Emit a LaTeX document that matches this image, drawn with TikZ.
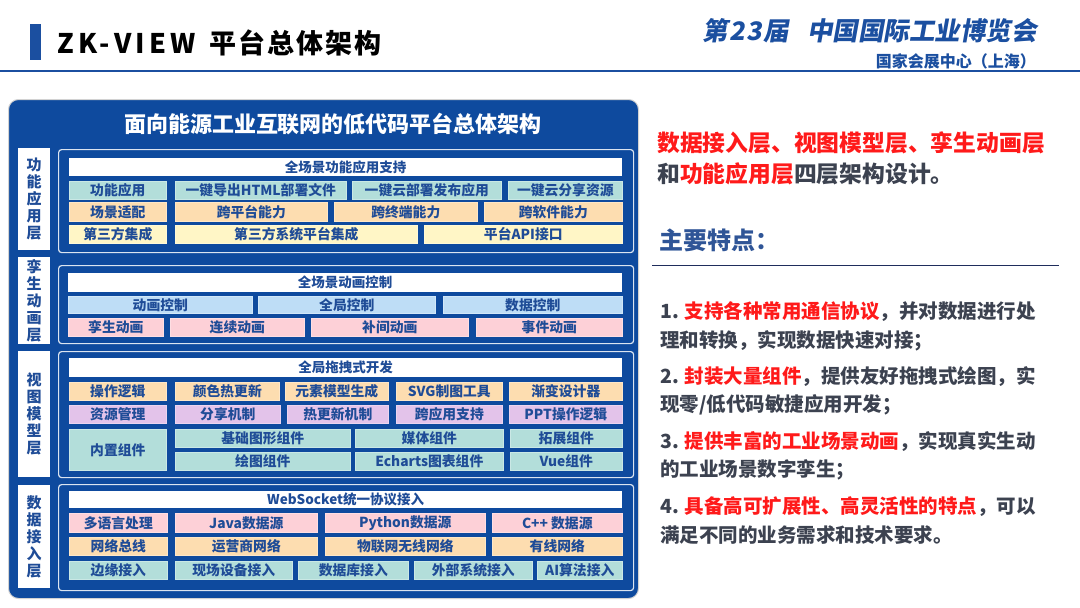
\documentclass[tikz,border=0pt]{standalone}
\usepackage{fontspec}
\setmainfont{Noto Sans CJK SC}
\newfontfamily\slantcjk[FakeSlant=0.18]{Noto Sans CJK SC}
\newfontfamily\spacedlat[LetterSpace=16]{Noto Sans CJK SC}
\newfontfamily\spacedcjk[LetterSpace=7]{Noto Sans CJK SC}
\newfontfamily\widecjk[LetterSpace=6,FakeSlant=0.18]{Noto Sans CJK SC}
\usetikzlibrary{positioning}
\definecolor{ZkNavy}{HTML}{0E4A9E}
\definecolor{ZkBar}{HTML}{1B4FA0}
\definecolor{ZkInk}{HTML}{1F4C97}
\definecolor{ZkTeal}{HTML}{B3DEDA}
\definecolor{ZkPeach}{HTML}{FDDDB0}
\definecolor{ZkCream}{HTML}{FFF6C6}
\definecolor{ZkSky}{HTML}{BEDDF6}
\definecolor{ZkRose}{HTML}{FDD0D7}
\definecolor{ZkLilac}{HTML}{E3C3EA}
\definecolor{ZkRed}{HTML}{FF1A1A}
\definecolor{ZkGray}{HTML}{3C4250}
\definecolor{ZkHead}{HTML}{2F5597}
\definecolor{ZkRule}{HTML}{1F2D5C}
\tikzset{panel/.style={fill=ZkNavy,draw=gray!35,line width=1pt,rounded corners=10pt,
anchor=north west,inner sep=0pt},
layerbox/.style={fill=ZkNavy,draw=white!85!ZkNavy,line width=1.2pt,rounded corners=3pt,
anchor=north west,inner sep=0pt},
layerlbl/.style={fill=white,minimum width=32pt,anchor=north west,inner sep=0pt,align=center,
text=ZkInk,font=\bfseries\fontsize{15}{17}\selectfont},
headbar/.style={fill=white,anchor=north west,inner sep=0pt,text=ZkInk,
font=\bfseries\fontsize{13.5}{14}\selectfont},
cell/.style={fill=#1,draw=#1!70!white,line width=0.6pt,anchor=north west,inner sep=0pt,
text=ZkInk,font=\bfseries\fontsize{13.8}{14}\selectfont},
lead/.style={anchor=west,inner sep=0pt,text=ZkGray,font=\bfseries\fontsize{22.8}{24}\selectfont},
item/.style={anchor=west,inner sep=0pt,text=ZkGray,font=\bfseries\fontsize{19.5}{21}\selectfont}}
\newcommand\hl[1]{\textcolor{ZkRed}{#1}}
% one row of cells: style colour, top, bottom, name/left/right/text
\newcommand\cellrow[4]{\foreach \nm/\xa/\xb/\txt in {#4}{
\pgfmathsetmacro\cw{\xb-\xa}\pgfmathsetmacro\ch{#3-#2}
\node[cell=#1,minimum width=\cw pt,minimum height=\ch pt](\nm) at (\xa,#2){\txt};}}

\begin{document}
\begin{tikzpicture}[x=1pt,y=-1pt]
\useasboundingbox (0,0) rectangle (1080,608);
% page header
\fill[ZkBar] (30,24) rectangle (41,60);
\node[anchor=west,inner sep=0pt,font=\bfseries\fontsize{27}{29}\selectfont](title) at (57,43){{\spacedlat ZK-VIEW}\hspace{0.5em}{\spacedcjk 平台总体架构}};
\node[anchor=east,inner sep=0pt,text=ZkBar,font=\slantcjk\bfseries\fontsize{25.5}{27}\selectfont](expo) at (1037,31){{\widecjk\bfseries 第23届}\hspace{0.7em}中国国际工业博览会};
\node[anchor=east,inner sep=0pt,text=ZkBar,font=\bfseries\fontsize{16}{18}\selectfont](venue) at (1036,61){国家会展中心（上海）};
\draw[ZkBar,line width=1.5pt] (0,71) -- (1080,71);

% architecture panel
\node[panel,minimum width=630pt,minimum height=499pt](panel) at (8,99){};
\node[text=white,font=\bfseries\fontsize{22}{24}\selectfont](paneltitle) at (333,124){面向能源工业互联网的低代码平台总体架构};

% function layer
\node[layerlbl,minimum height=102pt](lblfun) at (18,148){功\\能\\应\\用\\层};
\node[layerbox,minimum width=575pt,minimum height=103pt](boxfun) at (58,149){};
\node[headbar,minimum width=553pt,minimum height=18pt](hdfun) at (69,158){全场景功能应用支持};
\cellrow{ZkTeal}{181}{199}{fa/69/166/功能应用, fb/175/346/一键导出HTML部署文件, fc/352/501/一键云部署发布应用, fd/508/622/一键云分享资源}
\cellrow{ZkPeach}{202}{221}{fe/69/166/场景适配, ff/175/327/跨平台能力, fg/334/477/跨终端能力, fh/484/622/跨软件能力}
\cellrow{ZkCream}{225}{243}{fi/69/166/第三方集成, fj/175/417/第三方系统平台集成, fk/424/622/平台API接口}

% animation layer
\node[layerlbl,minimum height=87pt](lblani) at (18,257){孪\\生\\动\\画\\层};
\node[layerbox,minimum width=575pt,minimum height=78pt](boxani) at (58,265){};
\node[headbar,minimum width=554pt,minimum height=19pt](hdani) at (68,273){全场景动画控制};
\cellrow{ZkSky}{296}{313}{aa/68/252/动画控制, ab/258/435/全局控制, ac/443/622/数据控制}
\cellrow{ZkRose}{318}{336}{ad/68/163/孪生动画, ae/170/304/连续动画, af/311/468/补间动画, ag/476/622/事件动画}

% view model layer
\node[layerlbl,minimum height=126pt](lblview) at (18,351){视\\图\\模\\型\\层};
\node[layerbox,minimum width=575pt,minimum height=126pt](boxview) at (58,351){};
\node[headbar,minimum width=553pt,minimum height=19pt](hdview) at (69,358){全局拖拽式开发};
\cellrow{ZkPeach}{382}{400}{va/69/166/操作逻辑, vb/175/279/颜色热更新, vc/285/388/元素模型生成, vd/396/502/SVG制图工具, ve/509/622/渐变设计器}
\cellrow{ZkLilac}{405}{423}{vf/69/166/资源管理, vg/175/280/分享机制, vh/287/388/热更新机制, vi/396/502/跨应用支持, vj/509/622/PPT操作逻辑}
\cellrow{ZkTeal}{429}{470}{vk/69/166/内置组件}
\cellrow{ZkTeal}{429}{447}{vl/175/350/基础图形组件, vm/355/503/媒体组件, vn/510/622/拓展组件}
\cellrow{ZkTeal}{452}{470}{vo/175/350/绘图组件, vp/355/503/Echarts图表组件, vq/510/622/Vue组件}

% data access layer
\node[layerlbl,minimum height=103pt](lbldata) at (18,485){数\\据\\接\\入\\层};
\node[layerbox,minimum width=575pt,minimum height=106pt](boxdata) at (58,484){};
\node[headbar,minimum width=553pt,minimum height=17pt](hddata) at (69,491){WebSocket统一协议接入};
\cellrow{ZkRose}{513}{532}{da/69/167/多语言处理, db/175/317/Java数据源, dc/325/485/Python数据源, dd/492/622/C++ 数据源}
\cellrow{ZkPeach}{537}{555}{de/69/167/网络总线, df/175/317/运营商网络, dg/325/485/物联网无线网络, dh/492/622/有线网络}
\cellrow{ZkTeal}{561}{579}{di/69/167/边缘接入, dj/175/292/现场设备接入, dk/298/408/数据库接入, dl/414/532/外部系统接入, dm/537/622/AI算法接入}

% right column
\node[lead](lead1) at (657,143){\hl{数据接入层、视图模型层、孪生动画层}};
\node[lead](lead2) at (657,174){和\hl{功能应用层}四层架构设计。};
\node[anchor=west,inner sep=0pt,text=ZkHead,font=\bfseries\fontsize{24}{26}\selectfont](feat) at (659,240){主要特点：};
\draw[ZkRule,line width=1pt] (652,265) -- (1059,265);
\node[item](p1a) at (660,312){1. \hl{支持各种常用通信协议}，并对数据进行处};
\node[item](p1b) at (660,341){理和转换，实现数据快速对接；};
\node[item](p2a) at (660,377){2. \hl{封装大量组件}，提供友好拖拽式绘图，实};
\node[item](p2b) at (660,405){现零/低代码敏捷应用开发；};
\node[item](p3a) at (660,442){3. \hl{提供丰富的工业场景动画}，实现真实生动};
\node[item](p3b) at (660,470){的工业场景数字孪生；};
\node[item](p4a) at (660,507){4. \hl{具备高可扩展性、高灵活性的特点}，可以};
\node[item](p4b) at (660,535){满足不同的业务需求和技术要求。};
\end{tikzpicture}
\end{document}
